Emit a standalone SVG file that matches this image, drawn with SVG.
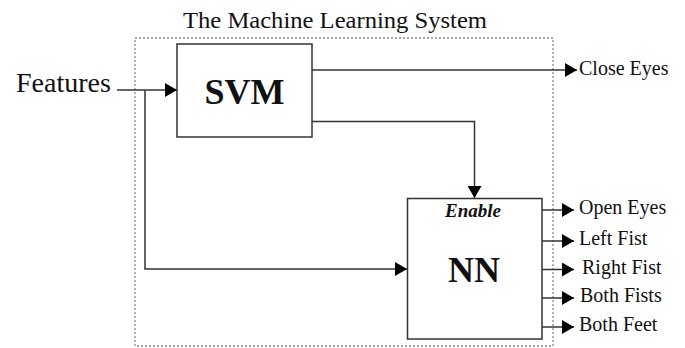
<svg xmlns="http://www.w3.org/2000/svg" width="685" height="348" viewBox="0 0 685 348">
<style>
text{font-family:"Liberation Serif","Times New Roman",serif;fill:#111}
.box{fill:#fff;stroke:#333;stroke-width:1.5}
.ln{fill:none;stroke:#333;stroke-width:1.5}
.frame{fill:none;stroke:#888;stroke-width:1.3;stroke-dasharray:2 2}
.out{font-size:20px}
</style>
<defs>
<marker id="ah" markerUnits="userSpaceOnUse" markerWidth="12" markerHeight="14" refX="12" refY="7" orient="auto">
<path d="M0,0 L12,7 L0,14 Z" fill="#000"/>
</marker>
</defs>
<rect width="685" height="348" fill="#fff"/>
<g id="system">
<rect class="frame" x="135" y="38" width="418" height="308"/>
<text x="183" y="28" font-size="24" textLength="304" lengthAdjust="spacingAndGlyphs">The Machine Learning System</text>
</g>
<g id="features">
<text x="16" y="92" font-size="28">Features</text>
</g>
<g id="connectors">
<path class="ln" d="M117,90 H177" marker-end="url(#ah)"/>
<path class="ln" d="M145,90 V269 H407" marker-end="url(#ah)"/>
<path class="ln" d="M312,70 H577" marker-end="url(#ah)"/>
<path class="ln" d="M312,121.5 H474.5 V198" marker-end="url(#ah)"/>
<path class="ln" d="M542,210 H574" marker-end="url(#ah)"/>
<path class="ln" d="M542,241 H574" marker-end="url(#ah)"/>
<path class="ln" d="M542,269.5 H574" marker-end="url(#ah)"/>
<path class="ln" d="M542,298 H574" marker-end="url(#ah)"/>
<path class="ln" d="M542,327 H574" marker-end="url(#ah)"/>
</g>
<g id="svm">
<rect class="box" x="177" y="44" width="135" height="93"/>
<text x="244.5" y="104" font-size="36" font-weight="bold" text-anchor="middle">SVM</text>
</g>
<g id="nn">
<rect class="box" x="407.5" y="198.5" width="134.5" height="140.5"/>
<text x="473" y="217" font-size="19" font-weight="bold" font-style="italic" text-anchor="middle">Enable</text>
<text x="474" y="282" font-size="36" font-weight="bold" text-anchor="middle">NN</text>
</g>
<g id="outputs">
<text class="out" x="579" y="75">Close Eyes</text>
<text class="out" x="579" y="214">Open Eyes</text>
<text class="out" x="579" y="245">Left Fist</text>
<text class="out" x="582" y="274">Right Fist</text>
<text class="out" x="580" y="302">Both Fists</text>
<text class="out" x="579" y="331">Both Feet</text>
</g>
</svg>
